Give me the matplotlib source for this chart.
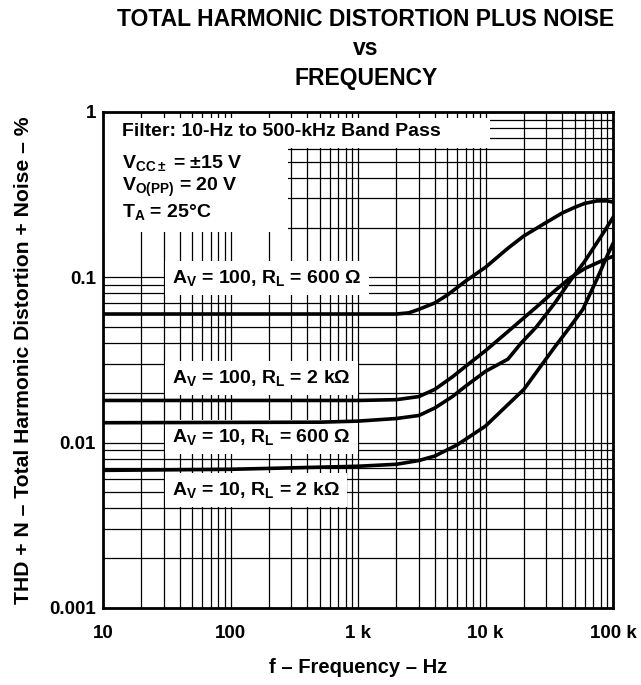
import numpy as np
import matplotlib
matplotlib.use("Agg")
import matplotlib.pyplot as plt
from matplotlib.patches import Rectangle

plt.rcParams['font.family'] = ['Liberation Sans', 'DejaVu Sans']
plt.rcParams['font.weight'] = 'bold'
plt.rcParams['mathtext.fontset'] = 'custom'
plt.rcParams['mathtext.rm'] = 'Liberation Sans:bold'
plt.rcParams['mathtext.it'] = 'Liberation Sans:bold'
plt.rcParams['mathtext.bf'] = 'Liberation Sans:bold'

# curve data (frequency in Hz, THD+N in %)
f_100_600 = [10, 1000, 2000, 2500, 3000, 4000, 5000, 7000, 10000, 15000, 20000, 30000, 40000, 50000, 60000, 75000, 90000, 100000]
thd_100_600 = [0.06, 0.06, 0.06, 0.061, 0.064, 0.07, 0.078, 0.095, 0.115, 0.15, 0.178, 0.215, 0.245, 0.265, 0.28, 0.29, 0.29, 0.285]

f_100_2k = [10, 1000, 2000, 3000, 4000, 5500, 7000, 10000, 15000, 19000, 25000, 35000, 46000, 60000, 80000, 100000]
thd_100_2k = [0.018, 0.018, 0.0182, 0.019, 0.021, 0.025, 0.029, 0.036, 0.047, 0.055, 0.066, 0.083, 0.099, 0.113, 0.125, 0.134]

f_10_600 = [10, 500, 1000, 2000, 3000, 4000, 5500, 7000, 10000, 15000, 19000, 25000, 35000, 46000, 60000, 80000, 100000]
thd_10_600 = [0.0132, 0.0133, 0.0135, 0.014, 0.0146, 0.0162, 0.019, 0.022, 0.027, 0.032, 0.04, 0.05, 0.07, 0.095, 0.125, 0.175, 0.23]

f_10_2k = [10, 100, 1000, 2000, 3000, 4000, 6000, 10000, 15000, 20000, 28000, 35000, 45000, 58000, 75000, 90000, 100000]
thd_10_2k = [0.0068, 0.0069, 0.0072, 0.0074, 0.0078, 0.0083, 0.0097, 0.0126, 0.017, 0.021, 0.03, 0.038, 0.049, 0.064, 0.098, 0.135, 0.16]

x_ticks = [10, 100, 1000, 10000, 100000]
x_labels = ["10", "100", "1 k", "10 k", "100 k"]
y_ticks = [0.001, 0.01, 0.1, 1]
y_labels = ["0.001", "0.01", "0.1", "1"]

curve_labels = ["A$_{\\mathrm{V}}$ = 100, R$_{\\mathrm{L}}$ = 600 Ω",
                "A$_{\\mathrm{V}}$ = 100, R$_{\\mathrm{L}}$ = 2 kΩ",
                "A$_{\\mathrm{V}}$ = 10, R$_{\\mathrm{L}}$ = 600 Ω",
                "A$_{\\mathrm{V}}$ = 10, R$_{\\mathrm{L}}$ = 2 kΩ"]
label_y = [0.099, 0.0246, 0.0108, 0.0052]

fig = plt.figure(figsize=(6.41, 6.85), dpi=100)
ax = fig.add_axes([103/641, 1-608/685, 510/641, 496/685])
ax.set_xscale('log')
ax.set_yscale('log')
ax.set_xlim(10, 100000)
ax.set_ylim(0.001, 1)

ax.grid(which='both', color='black', lw=0.9, zorder=1)
ax.set_axisbelow(True)
for s in ax.spines.values():
    s.set_linewidth(2)

lw = 2.6
ax.plot(f_100_600, thd_100_600, color='black', lw=lw, zorder=4)
ax.plot(f_100_2k, thd_100_2k, color='black', lw=lw, zorder=4)
ax.plot(f_10_600, thd_10_600, color='black', lw=lw, zorder=4)
ax.plot(f_10_2k, thd_10_2k, color='black', lw=lw, zorder=4)

ax.set_xticks(x_ticks)
ax.set_xticklabels(x_labels)
ax.set_yticks(y_ticks)
ax.set_yticklabels(y_labels)
ax.xaxis.set_minor_formatter(matplotlib.ticker.NullFormatter())
ax.yaxis.set_minor_formatter(matplotlib.ticker.NullFormatter())
ax.tick_params(which='both', length=0, labelsize=13.5)
ax.tick_params(axis='x', pad=12)
ax.tick_params(axis='y', pad=5)
for t in ax.get_xticklabels() + ax.get_yticklabels():
    t.set_fontweight('bold')

# white areas behind the test conditions
ax.add_patch(Rectangle((0, 1-(148-112)/496), (490-103)/510, (148-118)/496,
                       transform=ax.transAxes, facecolor='white', edgecolor='none', zorder=2))
ax.add_patch(Rectangle((0, 1-(232-112)/496), (288-103)/510, (232-147)/496,
                       transform=ax.transAxes, facecolor='white', edgecolor='none', zorder=2))

ax.text(14.1, 0.757, "Filter: 10-Hz to 500-kHz Band Pass", fontsize=14, fontweight='bold',
        va='center', ha='left', zorder=3)
ax.text(14.1, 0.49, "V$_{\\mathrm{CC\\pm}}$ = $\\pm$15 V", fontsize=14, va='center', ha='left', zorder=3)
ax.text(14.1, 0.35, "V$_{\\mathrm{O(PP)}}$ = 20 V", fontsize=14, va='center', ha='left', zorder=3)
ax.text(14.1, 0.25, "T$_{\\mathrm{A}}$ = 25°C", fontsize=14, va='center', ha='left', zorder=3)

box = dict(facecolor='white', edgecolor='none', pad=5)
for lab, yv in zip(curve_labels, label_y):
    ax.text(35, yv, lab, fontsize=14, ha='left', va='center', bbox=box, zorder=3)

ax.set_xlabel("f – Frequency – Hz", fontsize=14.5, fontweight='bold', labelpad=12)
ax.set_ylabel("THD + N – Total Harmonic Distortion + Noise – %", fontsize=15.2, fontweight='bold', labelpad=12)

cx = 366/641
fig.text(cx, 1-26/685, "TOTAL HARMONIC DISTORTION PLUS NOISE", ha='center', va='baseline', fontsize=16.5, fontweight='bold')
fig.text(cx, 1-55/685, "vs", ha='center', va='baseline', fontsize=16.5, fontweight='bold')
fig.text(cx, 1-85/685, "FREQUENCY", ha='center', va='baseline', fontsize=16.5, fontweight='bold')

fig.savefig("out.png", dpi=100)
